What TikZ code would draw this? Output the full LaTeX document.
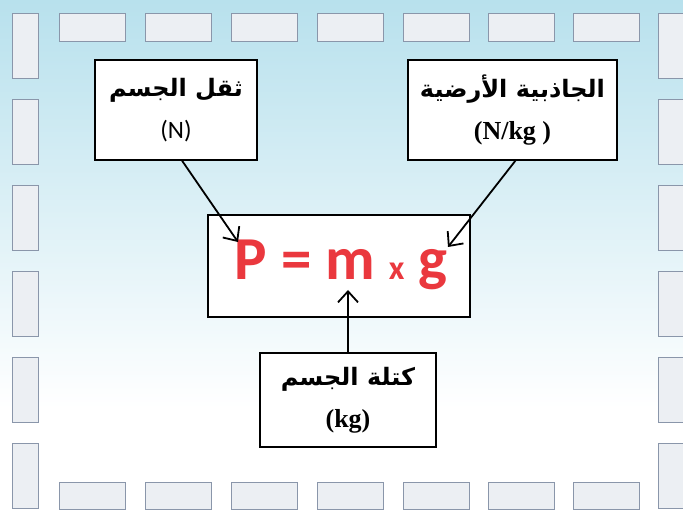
\documentclass[tikz,border=0pt]{standalone}
\usepackage{fontspec}
\setmainfont{Liberation Serif}
\newfontfamily\arabicfont[Script=Arabic]{DejaVu Sans}
\newfontfamily\calfont{Carlito}
\TeXXeTstate=1
\usetikzlibrary{arrows.meta}

\definecolor{bgtop}{RGB}{158,213,230}
\definecolor{bgmid}{RGB}{196,230,240}
\definecolor{tilefill}{RGB}{236,239,243}
\definecolor{tileedge}{RGB}{138,150,170}
\definecolor{formulared}{RGB}{234,56,62}

\pgfdeclareverticalshading{bgshade}{100bp}{color(0bp)=(white); color(35bp)=(white); color(68bp)=(bgmid); color(90bp)=(bgtop); color(100bp)=(bgtop)}

\tikzset{
  tile/.style={draw=tileedge, line width=0.8pt, fill=tilefill},
  box/.style={draw=black, line width=1.2pt, fill=white, align=center, inner sep=0pt,
              font=\fontsize{26}{42}\selectfont},
  formula/.style={text=formulared, font=\calfont\bfseries\fontsize{61}{61}\selectfont, inner sep=0pt},
  link/.style={draw=black, line width=1.8pt, -{Straight Barb[length=11pt, width=20pt, line width=1.8pt]}}
}
% Arabic caption line
\newcommand{\artext}[1]{{\arabicfont\bfseries\fontsize{24}{42}\selectfont\beginR #1\endR}}

\begin{document}
\begin{tikzpicture}[x=1pt, y=-1pt]
  \useasboundingbox (0,0) rectangle (683,510);
  \clip (0,0) rectangle (683,510);

  % background
  \shade[shading=bgshade] (0,0) rectangle (683,510);

  % tile border: top and bottom rows
  \foreach \x in {59,145,231,317,403,488,573} {
    \draw[tile] (\x,13) rectangle ++(66,28);
    \draw[tile] (\x,482) rectangle ++(66,27);
  }
  % tile border: left and right columns
  \foreach \y in {13,99,185,271,357,443} {
    \draw[tile] (12,\y) rectangle ++(26,65);
    \draw[tile] (658,\y) rectangle ++(30,65);
  }

  % quantity boxes
  \node[box, minimum width=162pt, minimum height=100pt] (weight) at (176,110)
    {\artext{ثقل الجسم}\\{\calfont\fontsize{25}{42}\selectfont (N)}};
  \node[box, minimum width=209pt, minimum height=100pt] (gravity) at (512.5,110)
    {\artext{الجاذبية الأرضية}\\{\bfseries (N/kg )}};
  \node[box, minimum width=176pt, minimum height=94pt] (mass) at (348,400)
    {\artext{كتلة الجسم}\\{\bfseries (kg)}};

  % formula box
  \node[box, minimum width=262pt, minimum height=102pt] (formulabox) at (339,266) {};
  \node[formula] (eq) at (341,265)
    {P = m {\fontsize{34}{34}\selectfont x} g};

  % arrow tips on the letters
  \coordinate (tipP) at (238,242);
  \coordinate (tipg) at (448,247);
  \coordinate (tipm) at (348,290);

  \draw[link] ([xshift=6pt]weight.south) -- (tipP);
  \draw[link] ([xshift=3pt]gravity.south) -- (tipg);
  \draw[link] (mass.north) -- (tipm);
\end{tikzpicture}
\end{document}
